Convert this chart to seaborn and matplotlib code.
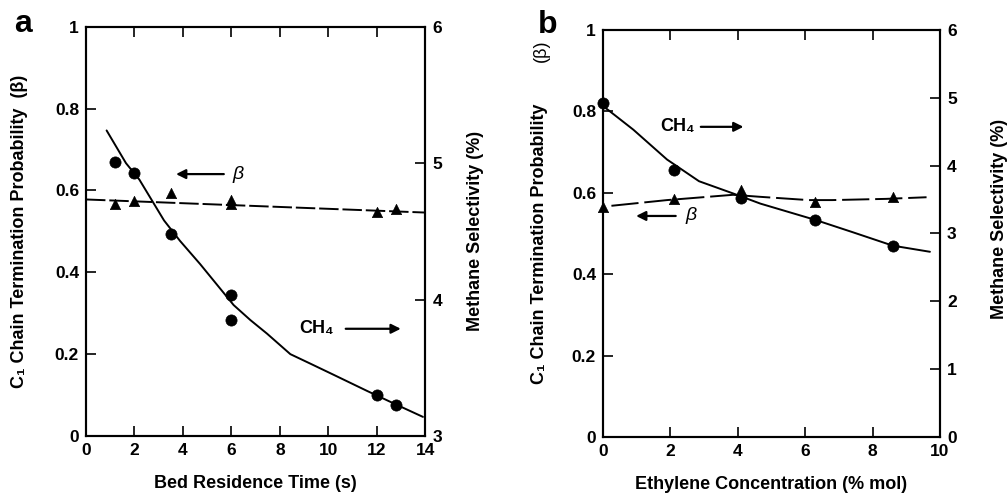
import matplotlib
matplotlib.use("Agg")
import matplotlib.pyplot as plt
import seaborn as sns

# ---------------- data: panel a ----------------
a_time_ch4 = [1.2, 2.0, 3.5, 6.0, 6.0, 12.0, 12.8]
a_sel_ch4 = [5.01, 4.93, 4.48, 4.03, 3.85, 3.30, 3.23]
a_time_beta = [1.2, 2.0, 3.5, 6.0, 6.0, 12.0, 12.8]
a_beta = [0.566, 0.574, 0.594, 0.576, 0.566, 0.547, 0.554]
a_fit_ch4_x = [0.85, 1.65, 2.2, 3.22, 3.88, 4.71, 5.4, 6.09, 6.78, 7.47, 8.43, 9.26, 10.2, 11.6, 12.8, 13.9]
a_fit_ch4_y = [5.24, 5.00, 4.88, 4.58, 4.43, 4.26, 4.11, 3.96, 3.85, 3.75, 3.60, 3.53, 3.45, 3.33, 3.23, 3.14]
a_fit_beta_x = [0.0, 14.0]
a_fit_beta_y = [0.578, 0.546]

# ---------------- data: panel b ----------------
b_conc_ch4 = [0.0, 2.1, 4.1, 6.3, 8.6]
b_sel_ch4 = [4.93, 3.94, 3.52, 3.20, 2.81]
b_conc_beta = [0.0, 2.1, 4.1, 4.1, 6.3, 8.6]
b_beta = [0.566, 0.585, 0.607, 0.597, 0.577, 0.589]
b_fit_ch4_x = [0.0, 0.9, 1.9, 2.85, 3.86, 4.67, 6.3, 7.4, 8.6, 9.7]
b_fit_ch4_y = [4.88, 4.53, 4.09, 3.77, 3.59, 3.44, 3.20, 3.02, 2.82, 2.73]
b_fit_beta_x = [0.25, 1.9, 3.86, 4.67, 6.1, 6.8, 8.4, 9.6]
b_fit_beta_y = [0.568, 0.582, 0.595, 0.590, 0.582, 0.582, 0.585, 0.589]

left_ticks = [0, 0.2, 0.4, 0.6, 0.8, 1.0]
left_ticklabels = ["0", "0.2", "0.4", "0.6", "0.8", "1"]

sns.set_theme(style="ticks")
plt.rcParams["font.family"] = ["Liberation Sans", "DejaVu Sans"]
plt.rcParams["font.weight"] = "bold"
plt.rcParams["axes.linewidth"] = 1.5
plt.rcParams["text.color"] = "black"
plt.rcParams["axes.labelcolor"] = "black"
plt.rcParams["xtick.color"] = "black"
plt.rcParams["ytick.color"] = "black"

fig = plt.figure(figsize=(10.07, 4.96), dpi=100)
axa = fig.add_axes([0.0854, 0.121, 0.337, 0.825])
axb = fig.add_axes([0.5988, 0.119, 0.3347, 0.8206])

TICKFS = 12.5
LABFS = 13


def style_axes(ax, ax2, xlim, xticks, rlim, rticks):
    ax.set_xlim(*xlim)
    ax.set_ylim(0, 1)
    ax.set_xticks(xticks)
    ax.set_xticklabels([str(t) for t in xticks], fontsize=TICKFS, fontweight="bold")
    ax.set_yticks(left_ticks)
    ax.set_yticklabels(left_ticklabels, fontsize=TICKFS, fontweight="bold")
    ax.tick_params(axis="both", direction="in", length=7, width=1.2, colors="black",
                   top=True, bottom=True, left=True, labeltop=False, pad=5)
    ax2.set_ylim(*rlim)
    ax2.set_yticks(rticks)
    ax2.set_yticklabels([str(t) for t in rticks], fontsize=TICKFS, fontweight="bold")
    ax2.tick_params(axis="y", direction="in", length=7, width=1.2, colors="black", pad=5)
    for a in (ax, ax2):
        for s in a.spines.values():
            s.set_visible(True)
            s.set_color("black")
            s.set_linewidth(1.5)
        a.grid(False)


arrow_kw = dict(arrowstyle="-|>", color="black", lw=1.6, mutation_scale=14)

# ---------------- panel a ----------------
axa2 = axa.twinx()
sns.lineplot(x=a_fit_beta_x, y=a_fit_beta_y, ax=axa, color="black", lw=1.4)
axa.lines[-1].set_dashes((10, 2))
sns.scatterplot(x=a_time_beta, y=a_beta, ax=axa, marker="^", s=55, color="black",
                edgecolor="black", linewidth=0.5, zorder=5)
sns.lineplot(x=a_fit_ch4_x, y=a_fit_ch4_y, ax=axa2, color="black", lw=1.4, sort=False)
sns.scatterplot(x=a_time_ch4, y=a_sel_ch4, ax=axa2, marker="o", s=65, color="black",
                edgecolor="black", linewidth=0.5, zorder=5)
style_axes(axa, axa2, (0, 14), [0, 2, 4, 6, 8, 10, 12, 14], (3, 6), [3, 4, 5, 6])
axa.set_xlabel("Bed Residence Time (s)", fontsize=LABFS, fontweight="bold", labelpad=12,
               color="black")
axa.set_ylabel("C\u2081 Chain Termination Probability  (\u03b2)",
               fontsize=LABFS, fontweight="bold", color="black")
axa.yaxis.set_label_coords(-0.171, 0.5)
axa2.set_ylabel("Methane Selectivity (%)", fontsize=LABFS, fontweight="bold", color="black")
axa2.yaxis.set_label_coords(1.124, 0.5)

axa.annotate("", xy=(3.6, 0.64), xytext=(5.8, 0.64), arrowprops=arrow_kw)
axa.text(6.05, 0.64, "\u03b2", fontsize=14, style="italic", fontweight="normal",
         ha="left", va="center", color="black")
axa.text(8.8, 0.262, "CH\u2084", fontsize=13, fontweight="bold", ha="left", va="center",
         color="black")
axa.annotate("", xy=(13.1, 0.262), xytext=(10.6, 0.262), arrowprops=arrow_kw)
fig.text(0.023, 0.935, "a", fontsize=23, fontweight="bold", ha="center", va="baseline",
         color="black")

# ---------------- panel b ----------------
axb2 = axb.twinx()
sns.lineplot(x=b_fit_beta_x, y=b_fit_beta_y, ax=axb, color="black", lw=1.4, sort=False)
axb.lines[-1].set_dashes((14, 3))
sns.scatterplot(x=b_conc_beta, y=b_beta, ax=axb, marker="^", s=55, color="black",
                edgecolor="black", linewidth=0.5, zorder=5, clip_on=False)
sns.lineplot(x=b_fit_ch4_x, y=b_fit_ch4_y, ax=axb2, color="black", lw=1.4, sort=False)
sns.scatterplot(x=b_conc_ch4, y=b_sel_ch4, ax=axb2, marker="o", s=65, color="black",
                edgecolor="black", linewidth=0.5, zorder=5, clip_on=False)
style_axes(axb, axb2, (0, 10), [0, 2, 4, 6, 8, 10], (0, 6), [0, 1, 2, 3, 4, 5, 6])
axb.set_xlabel("Ethylene Concentration (% mol)", fontsize=LABFS, fontweight="bold",
               labelpad=12, color="black")
axb.set_ylabel("C\u2081 Chain Termination Probability", fontsize=LABFS, fontweight="bold",
               color="black")
axb.yaxis.set_label_coords(-0.163, 0.475)
axb.text(-0.184, 0.948, "(\u03b2)", transform=axb.transAxes, rotation=90, fontsize=LABFS,
         fontweight="normal", ha="center", va="center", color="black")
axb2.set_ylabel("Methane Selectivity (%)", fontsize=LABFS, fontweight="bold", color="black")
axb2.yaxis.set_label_coords(1.15, 0.535)

axb.text(1.7, 0.762, "CH\u2084", fontsize=13, fontweight="bold", ha="left", va="center",
         color="black")
axb.annotate("", xy=(4.25, 0.762), xytext=(2.82, 0.762), arrowprops=arrow_kw)
axb.annotate("", xy=(0.9, 0.543), xytext=(2.24, 0.543), arrowprops=arrow_kw)
axb.text(2.45, 0.543, "\u03b2", fontsize=14, style="italic", fontweight="normal",
         ha="left", va="center", color="black")
fig.text(0.544, 0.933, "b", fontsize=23, fontweight="bold", ha="center", va="baseline",
         color="black")

fig.savefig("out.png", dpi=100)
